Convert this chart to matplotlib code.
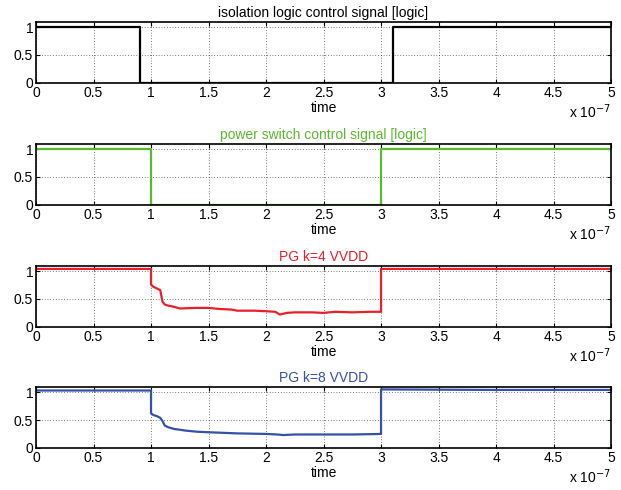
import numpy as np
import matplotlib
matplotlib.use("Agg")
import matplotlib.pyplot as plt

plt.rcParams['font.family'] = ['Liberation Sans', 'DejaVu Sans']
plt.rcParams['font.size'] = 10

# time axis in units of 1e-7 s
iso_t = [0, 0.9, 0.9, 3.1, 3.1, 5]
iso_v = [1, 1, 0, 0, 1, 1]

psw_t = [0, 1, 1, 3, 3, 5]
psw_v = [1, 1, 0, 0, 1, 1]

k4_t = [0, 0.5, 1.0, 1.0, 1.02, 1.05, 1.08, 1.1, 1.12, 1.15, 1.2, 1.25, 1.4, 1.5, 1.6,
        1.7, 1.75, 1.9, 2.0, 2.08, 2.12, 2.18, 2.25, 2.4, 2.5, 2.6, 2.75, 2.9, 3.0, 3.0, 4.0, 5.0]
k4_v = [1.04, 1.04, 1.04, 0.76, 0.72, 0.69, 0.66, 0.45, 0.40, 0.38, 0.36, 0.33, 0.34, 0.34, 0.32,
        0.31, 0.29, 0.29, 0.28, 0.27, 0.22, 0.25, 0.26, 0.26, 0.25, 0.27, 0.26, 0.27, 0.27, 1.04, 1.04, 1.04]

k8_t = [0, 0.5, 1.0, 1.0, 1.02, 1.05, 1.08, 1.1, 1.12, 1.15, 1.2, 1.3, 1.4, 1.5, 1.75,
        2.0, 2.1, 2.15, 2.25, 2.5, 2.75, 3.0, 3.0, 4.0, 5.0]
k8_v = [1.03, 1.03, 1.03, 0.62, 0.59, 0.57, 0.54, 0.48, 0.40, 0.37, 0.34, 0.31, 0.29, 0.28, 0.26,
        0.25, 0.24, 0.23, 0.24, 0.24, 0.24, 0.25, 1.05, 1.04, 1.04]

panels = [
    ("isolation logic control signal [logic]", iso_t, iso_v, "black"),
    ("power switch control signal [logic]", psw_t, psw_v, "#5cb82e"),
    ("PG k=4 VVDD", k4_t, k4_v, "#e8202a"),
    ("PG k=8 VVDD", k8_t, k8_v, "#3452a8"),
]

fig = plt.figure(figsize=(6.21, 4.9), dpi=100)
bottoms = [0.831, 0.582, 0.333, 0.086]
for (title, t, v, col), b in zip(panels, bottoms):
    ax = fig.add_axes([0.058, b, 0.926, 0.125])
    ax.plot(t, v, color=col, linewidth=1.6)
    ax.set_xlim(0, 5)
    ax.set_ylim(0, 1.1)
    ax.set_xticks(np.arange(0, 5.01, 0.5))
    ax.set_xticklabels(["0", "0.5", "1", "1.5", "2", "2.5", "3", "3.5", "4", "4.5", "5"])
    ax.set_yticks([0, 0.5, 1])
    ax.set_yticklabels(["0", "0.5", "1"])
    ax.tick_params(direction='in', length=3, width=0.8, pad=2, top=True, right=True)
    ax.grid(True, linestyle=(0, (1, 3)), color='black', linewidth=0.5)
    for s in ax.spines.values():
        s.set_linewidth(1.2)
    ax.set_title(title, color=col, fontsize=10, pad=3)
    ax.set_xlabel("time", labelpad=1)
    ax.text(1.0, -0.47, r"x 10$^{-7}$", transform=ax.transAxes, ha='right', va='center')

plt.savefig('out.png', dpi=100)
